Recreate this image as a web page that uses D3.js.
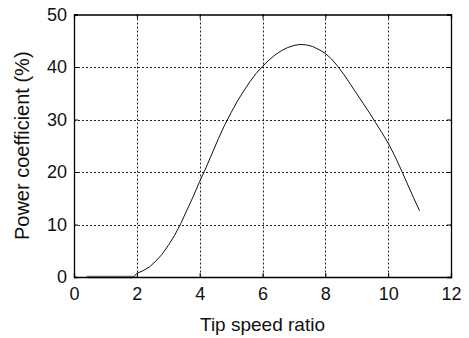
<!DOCTYPE html>
<html>
<head>
<meta charset="utf-8">
<script src="https://cdn.jsdelivr.net/npm/d3@7"></script>
<style>
  body { margin: 0; background: #fff; }
  svg { display: block; font-family: "Liberation Sans", Arial, sans-serif; }
</style>
</head>
<body>
<figure id="chart" style="margin:0"></figure>
<script>
// tip speed ratio vs power coefficient (%)
const tsr = [0.4, 1.0, 1.5, 1.9, 2.0, 2.2, 2.4, 2.6, 2.8, 3.0, 3.2, 3.4, 3.6, 3.8, 4.0,
  4.2, 4.4, 4.6, 4.8, 5.0, 5.2, 5.4, 5.6, 5.8, 6.0, 6.2, 6.4, 6.6, 6.8, 7.0, 7.2, 7.4,
  7.6, 7.8, 8.0, 8.2, 8.4, 8.6, 8.8, 9.0, 9.2, 9.4, 9.6, 9.8, 10.0, 10.2, 10.4, 10.6, 10.8, 11.0];
const cp = [0, 0, 0, 0, 0.7, 1.2, 1.9, 3.0, 4.3, 6.0, 7.9, 10.2, 12.8, 15.4, 18.2,
  20.8, 23.6, 26.4, 29.0, 31.3, 33.5, 35.4, 37.2, 38.8, 40.1, 41.3, 42.3, 43.1, 43.7, 44.1, 44.3, 44.2,
  43.9, 43.3, 42.6, 41.5, 40.1, 38.5, 36.7, 34.9, 33.1, 31.3, 29.4, 27.5, 25.5, 23.2, 20.6, 17.9, 15.2, 12.6];
const xTicks = [0, 2, 4, 6, 8, 10, 12];
const yTicks = [0, 10, 20, 30, 40, 50];
const xLabel = 'Tip speed ratio';
const yLabel = 'Power coefficient (%)';

const width = 469, height = 338;
const margin = { top: 14.5, right: 18, bottom: 61, left: 74 };

const x = d3.scaleLinear().domain([0, 12]).range([margin.left, width - margin.right]);
const y = d3.scaleLinear().domain([0, 50]).range([height - margin.bottom, margin.top]);

const svg = d3.select('figure#chart')
  .append('svg')
  .attr('width', width)
  .attr('height', height);

// grid
svg.append('g')
  .attr('stroke', '#222')
  .attr('stroke-width', 1)
  .attr('stroke-dasharray', '2,2')
  .selectAll('line.vx')
  .data(xTicks.slice(1, -1))
  .join('line')
  .attr('x1', d => Math.round(x(d)) + 0.5)
  .attr('x2', d => Math.round(x(d)) + 0.5)
  .attr('y1', y(50))
  .attr('y2', y(0));

svg.append('g')
  .attr('stroke', '#222')
  .attr('stroke-width', 1)
  .attr('stroke-dasharray', '2,2')
  .selectAll('line.hy')
  .data(yTicks.slice(1, -1))
  .join('line')
  .attr('x1', x(0))
  .attr('x2', x(12))
  .attr('y1', d => Math.round(y(d)) + 0.5)
  .attr('y2', d => Math.round(y(d)) + 0.5);

// curve: idle part (flat) in grey, rest in black
const pts = tsr.map((t, i) => [t, cp[i]]);
const line = d3.line().x(d => x(d[0])).y(d => y(d[1]));
const idle = pts.filter(d => d[1] === 0);
const active = pts.slice(idle.length - 1);

svg.append('path')
  .datum(idle)
  .attr('fill', 'none')
  .attr('stroke', '#777')
  .attr('stroke-width', 2.5)
  .attr('d', line);

svg.append('path')
  .datum(active)
  .attr('fill', 'none')
  .attr('stroke', '#111')
  .attr('stroke-width', 1)
  .attr('d', line);

// axes
svg.append('g')
  .attr('transform', `translate(0,${y(0)})`)
  .call(d3.axisBottom(x).tickValues(xTicks).tickSize(-4).tickPadding(10));
svg.append('g')
  .attr('transform', `translate(${x(0)},0)`)
  .call(d3.axisLeft(y).tickValues(yTicks).tickSize(-4).tickPadding(7));
svg.append('g')
  .attr('transform', `translate(0,${y(50)})`)
  .call(d3.axisTop(x).tickValues(xTicks).tickSize(-4).tickFormat(''));
svg.append('g')
  .attr('transform', `translate(${x(12)},0)`)
  .call(d3.axisRight(y).tickValues(yTicks).tickSize(-4).tickFormat(''));

svg.selectAll('.domain').attr('stroke', '#000').attr('stroke-width', 1.3);
svg.selectAll('.tick line').attr('stroke', '#000');
svg.selectAll('.tick text')
  .attr('fill', '#111')
  .style('font-size', '18px')
  .style('font-family', '"Liberation Sans", Arial, sans-serif');

svg.append('text')
  .attr('x', x(6))
  .attr('y', 331)
  .attr('text-anchor', 'middle')
  .attr('fill', '#111')
  .style('font-size', '19px')
  .text(xLabel);

svg.append('text')
  .attr('transform', `translate(29,${y(25)}) rotate(-90)`)
  .attr('text-anchor', 'middle')
  .attr('fill', '#111')
  .style('font-size', '20px')
  .text(yLabel);
</script>
</body>
</html>
